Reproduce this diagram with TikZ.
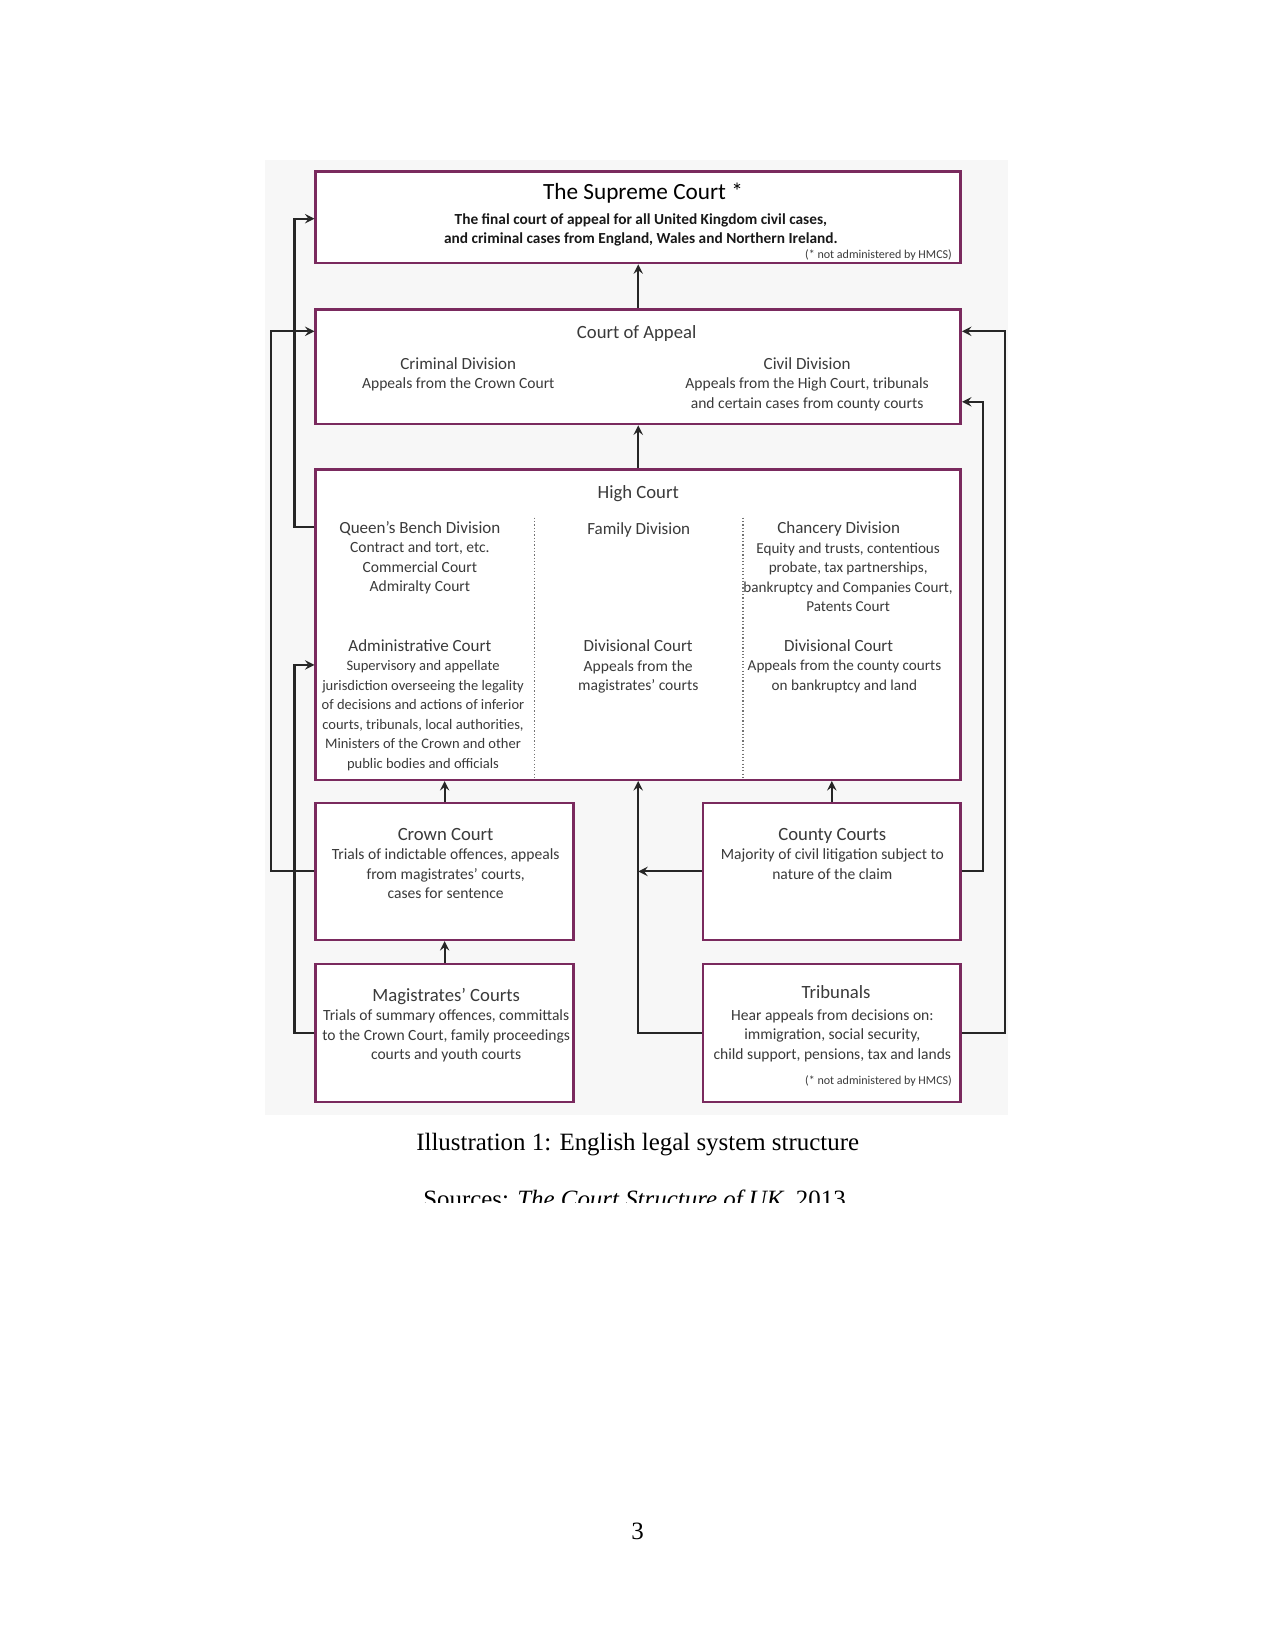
\documentclass[tikz,border=0pt]{standalone}
\usepackage{fontspec}
\setmainfont{Carlito}
\newfontfamily\pagefont{Liberation Serif}
\usetikzlibrary{calc,positioning}

\definecolor{courtplum}{RGB}{122,42,94}
\definecolor{courttext}{RGB}{58,58,58}

\tikzset{
  court/.style={rectangle, draw=courtplum, line width=1.2pt, fill=white, inner sep=0pt},
  body/.style={align=center, text=courttext, inner sep=0pt, anchor=base, font=\fontsize{7.5}{9.4}\selectfont},
  note/.style={text=courttext, inner sep=0pt, anchor=base east, font=\fontsize{5.8}{7}\selectfont},
  link/.style={->, line width=1pt, black!85},
  divider/.style={draw=black!55, densely dotted, line width=0.6pt},
  pagetext/.style={inner sep=0pt, anchor=base, font=\pagefont\fontsize{12}{14}\selectfont}
}
\newcommand{\ctitle}[1]{{\fontsize{9}{9.4}\selectfont #1}}
\newcommand{\dtitle}[1]{{\fontsize{8.2}{9.4}\selectfont #1}}

\begin{document}
\begin{tikzpicture}[x=0.5069pt, y=-0.5069pt, >=stealth]
\useasboundingbox (0,0) rectangle (1212,1568);
\fill[black!3] (252,152) rectangle (958,1060);

% the courts
\node[court, minimum width=310.7pt, minimum height=44.1pt] (supreme) at (606.5,206.5) {};
\node[court, minimum width=310.7pt, minimum height=55.3pt, below=21.1pt of supreme] (appeal) {};
\node[court, minimum width=310.7pt, minimum height=149.5pt, below=20.6pt of appeal] (high) {};
\node[court, minimum width=124.2pt, minimum height=65.9pt, below=10pt of high.south west, anchor=north west] (crown) {};
\node[court, minimum width=124.2pt, minimum height=65.9pt, below=10pt of high.south east, anchor=north east] (county) {};
\node[court, minimum width=124.2pt, minimum height=66.4pt, below=10.5pt of crown] (magis) {};
\node[court, minimum width=124.2pt, minimum height=66.4pt, below=10.5pt of county] (trib) {};

\draw[divider] (508,492) -- (508,741);
\draw[divider] (706,492) -- (706,741);

% texts (base = last line)
\node[body, text=black, font=\fontsize{11.2}{13}\selectfont] (supremehd) at (611,190) {The Supreme Court *};
\node[body, text=black!90, font=\bfseries\fontsize{7.4}{9.1}\selectfont] (supremetxt) at (609,231.5)
  {The final court of appeal for all United Kingdom civil cases,\\and criminal cases from England, Wales and Northern Ireland.};
\node[note] (supremenote) at (905,246) {(* not administered by HMCS)};

\node[body] (appealhd) at (605,321.5) {\ctitle{Court of Appeal}};
\node[body] (crimdiv) at (435.5,369.5) {\dtitle{Criminal Division}\\Appeals from the Crown Court};
\node[body] (civdiv) at (767,388) {\dtitle{Civil Division}\\Appeals from the High Court, tribunals\\and certain cases from county courts};

\node[body] (highhd) at (606.5,473.5) {\ctitle{High Court}};
\node[body] (qbdiv) at (399,562.5) {\dtitle{Queen's Bench Division}\\Contract and tort, etc.\\Commercial Court\\Admiralty Court};
\node[body] (famdiv) at (607,508) {\dtitle{Family Division}};
\node[body] (chanhd) at (797,507) {\dtitle{Chancery Division}};
\node[body, font=\fontsize{7.3}{9.4}\selectfont] (chantxt) at (806,581.2) {Equity and trusts, contentious\\probate, tax partnerships,\\bankruptcy and Companies Court,\\Patents Court};
\node[body] (adminhd) at (399,619.5) {\dtitle{Administrative Court}};
\node[body, font=\fontsize{7}{9.4}\selectfont] (admintxt) at (402,730.3) {Supervisory and appellate\\jurisdiction overseeing the legality\\of decisions and actions of inferior\\courts, tribunals, local authorities,\\Ministers of the Crown and other\\public bodies and officials};
\node[body] (famdc) at (606.5,656.6) {\dtitle{Divisional Court}\\Appeals from the\\magistrates' courts};
\node[body] (chandchd) at (797,619.5) {\dtitle{Divisional Court}};
\node[body, font=\fontsize{7.3}{9.4}\selectfont] (chandctxt) at (802.5,656) {Appeals from the county courts\\on bankruptcy and land};

\node[body] (crowntxt) at (423.5,854.2) {\ctitle{Crown Court}\\Trials of indictable offences, appeals\\from magistrates' courts,\\cases for sentence};
\node[body] (countytxt) at (791,835.6) {\ctitle{County Courts}\\Majority of civil litigation subject to\\nature of the claim};
\node[body] (magistxt) at (424,1007) {\ctitle{Magistrates' Courts}\\Trials of summary offences, committals\\to the Crown Court, family proceedings\\courts and youth courts};
\node[body] (tribhd) at (794.5,948.5) {\ctitle{Tribunals}};
\node[body] (tribtxt) at (791,1006.8) {Hear appeals from decisions on:\\immigration, social security,\\child support, pensions, tax and lands};
\node[note] (tribnote) at (905,1031) {(* not administered by HMCS)};

% appeals routes
\draw[link] (appeal.north) -- (supreme.south);
\draw[link] (high.north) -- (appeal.south);
\draw[link] (crown.north) -- (crown.north |- high.south);
\draw[link] (county.north) -- (county.north |- high.south);
\draw[link] (magis.north) -- (crown.south);
\draw[link] (trib.west) -| (high.south);
\draw[link] (county.west) -- (county.west -| high.south);
\draw[link] (crown.west) -- ++(-41,0) |- ($(appeal.north west)+(0,22)$);
\draw[link] (magis.west) -- ++(-19,0) |- ($(high.north west)+(0,187)$);
\draw[link] ($(high.north west)+(0,56)$) -- ++(-19,0) |- ($(supreme.north west)+(0,46)$);
\draw[link] (trib.east) -- ++(41,0) |- ($(appeal.north east)+(0,22)$);
\draw[link] (county.east) -- ++(20,0) |- ($(appeal.north east)+(0,89)$);

% caption and page
\node[pagetext] (caption) at (606,1093) {Illustration 1: English legal system structure};
\begin{scope}
  \clip (0,1100) rectangle (1212,1143);
  \node[pagetext] (sources) at (603,1147) {Sources: \textit{The Court Structure of UK}, 2013};
\end{scope}
\node[pagetext] (pagenum) at (606,1463) {3};
\end{tikzpicture}
\end{document}
